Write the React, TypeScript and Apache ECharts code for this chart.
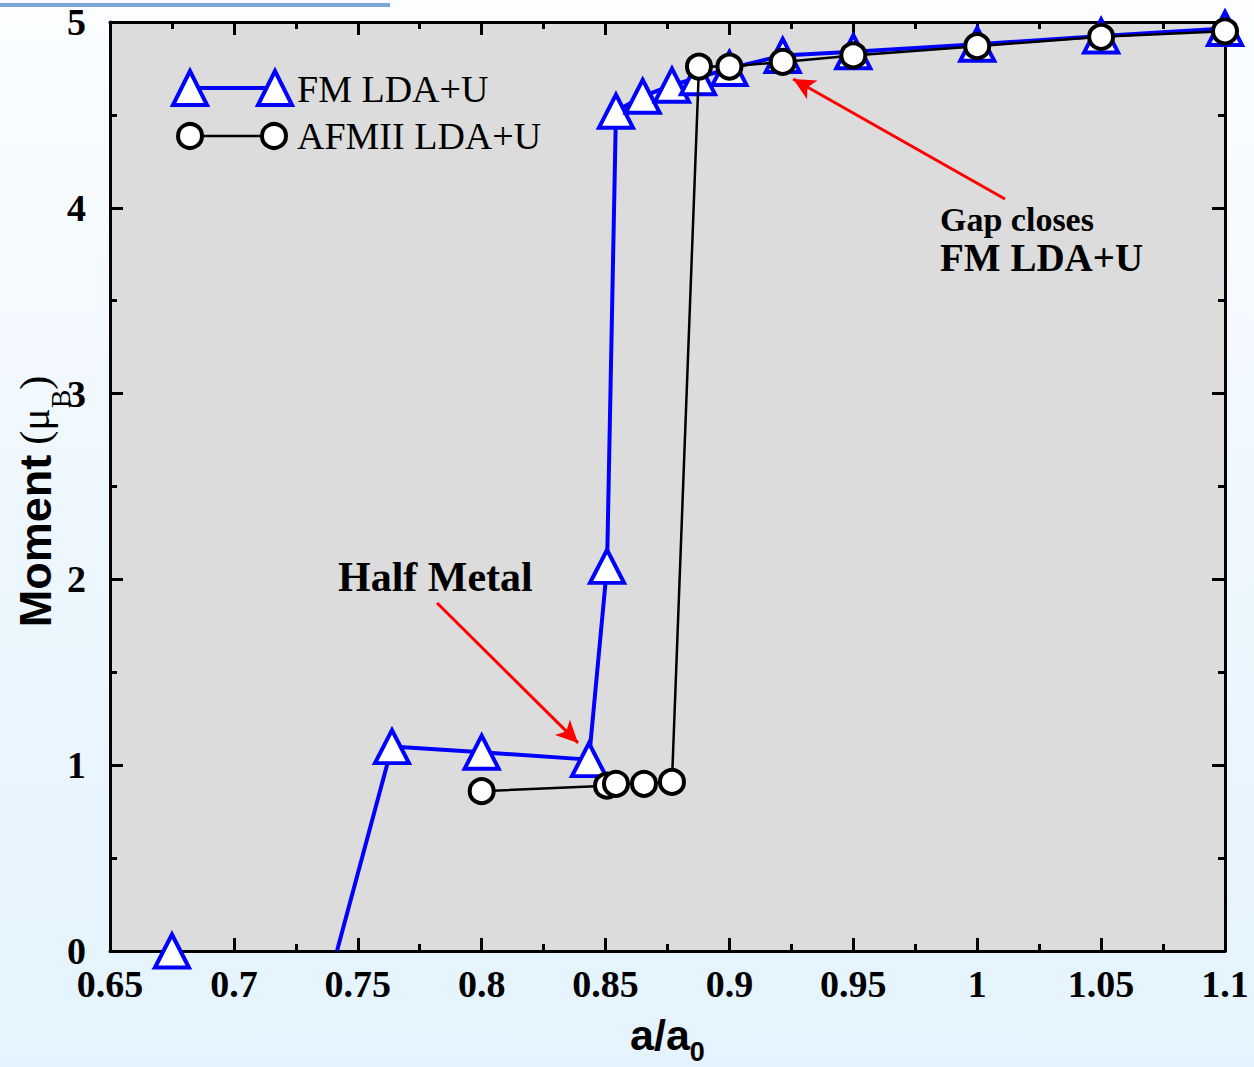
import React, { useEffect, useRef } from "react";
import * as echarts from "echarts";

// ---- data ----
const fmRatio = [0.675, 0.7416, 0.7638, 0.8, 0.8433, 0.8506, 0.8542, 0.865, 0.8768, 0.8873, 0.9, 0.9215, 0.95, 1.0, 1.05, 1.1];
const fmMoment = [0, 0, 1.1, 1.07, 1.03, 2.07, 4.52, 4.6, 4.66, 4.7, 4.75, 4.82, 4.84, 4.88, 4.925, 4.965];
const fmHasMarker = [true, false, true, true, true, true, true, true, true, true, true, true, true, true, true, true];
const fmBreakAfter = 0; // line not drawn between first and second point

const afmRatio = [0.8, 0.8506, 0.8542, 0.8655, 0.8768, 0.8877, 0.9, 0.9215, 0.95, 1.0, 1.05, 1.1];
const afmMoment = [0.86, 0.89, 0.9, 0.9, 0.91, 4.76, 4.76, 4.785, 4.82, 4.87, 4.92, 4.95];

const seriesNames = ["FM LDA+U", "AFMII LDA+U"];
const xMin = 0.65, xMax = 1.1, xStep = 0.05;
const yMin = 0, yMax = 5, yStep = 1;

const halfMetalArrow = [[0.782, 1.873], [0.8389, 1.12]];
const gapArrow = [[1.0112, 4.047], [0.9257, 4.693]];
const annotations = ["Half Metal", "Gap closes", "FM LDA+U"];

const SERIF = "'Liberation Serif', 'Times New Roman', serif";
const SANS = "'Liberation Sans', Arial, sans-serif";

export default function App() {
  const ref = useRef<HTMLDivElement>(null);
  useEffect(() => {
    const chart = echarts.init(ref.current!, null, { renderer: "svg" });

    const fmData: any[] = [];
    fmRatio.forEach((x, i) => {
      fmData.push(fmHasMarker[i] ? [x, fmMoment[i]] : { value: [x, fmMoment[i]], symbol: "none" });
      if (i === fmBreakAfter) fmData.push([(fmRatio[i] + fmRatio[i + 1]) / 2, "-"]);
    });
    const afmData = afmRatio.map((x, i) => [x, afmMoment[i]]);

    const line = { color: "#000", width: 3 };
    const labelStyle = {
      fontFamily: SERIF,
      fontWeight: "bold" as const,
      fontSize: 38,
      lineHeight: 30,
      color: "#000",
    };
    const base = (showLabel: boolean) => ({
      type: "value" as const,
      axisLine: { show: true, onZero: false, lineStyle: line },
      axisTick: { show: true, inside: true, length: 13, lineStyle: line },
      minorTick: { show: true, splitNumber: 2, length: 7, lineStyle: line },
      splitLine: { show: false },
      minorSplitLine: { show: false },
      axisLabel: showLabel ? { ...labelStyle } : { show: false },
    });
    const fmt = (v: number) => String(parseFloat(v.toFixed(3)));

    const option: any = {
      animation: false,
      backgroundColor: "transparent",
      grid: {
        left: 110,
        right: 29,
        top: 22,
        bottom: 116,
        show: true,
        backgroundColor: "#dcdcdc",
        borderWidth: 0,
        containLabel: false,
        outerBoundsMode: "none",
      },
      xAxis: [
        {
          ...base(true),
          position: "bottom",
          min: xMin,
          max: xMax,
          interval: xStep,
          axisLabel: { ...labelStyle, margin: 18, formatter: fmt, showMinLabel: true, showMaxLabel: true },
          name: "{a|a/a}{s|0}",
          nameLocation: "middle",
          nameGap: 54,
          nameMoveOverlap: false,
          nameTextStyle: {
            rich: {
              a: { fontFamily: SANS, fontWeight: "bold", fontSize: 43, color: "#000", lineHeight: 60 },
              s: { fontFamily: SANS, fontWeight: "bold", fontSize: 27, color: "#000", verticalAlign: "bottom" },
            },
          },
        },
        { ...base(false), position: "top", min: xMin, max: xMax, interval: xStep },
      ],
      yAxis: [
        {
          ...base(true),
          position: "left",
          min: yMin,
          max: yMax,
          interval: yStep,
          axisLabel: { ...labelStyle, margin: 24, showMinLabel: true, showMaxLabel: true },
          name: "{m|Moment}   {p|(μ}{b|B}{p|)}",
          nameLocation: "middle",
          nameRotate: 90,
          nameGap: 36,
          nameMoveOverlap: false,
          nameTextStyle: {
            padding: [0, 30, 0, 0],
            rich: {
              m: { fontFamily: SANS, fontWeight: "bold", fontSize: 45, color: "#000", lineHeight: 78 },
              p: { fontFamily: SERIF, fontSize: 42, color: "#000" },
              b: { fontFamily: SERIF, fontSize: 28, color: "#000", verticalAlign: "bottom" },
            },
          },
        },
        { ...base(false), position: "right", min: yMin, max: yMax, interval: yStep },
      ],
      series: [
        {
          name: seriesNames[0],
          type: "line",
          xAxisIndex: 0,
          yAxisIndex: 0,
          clip: false,
          connectNulls: false,
          symbol: "triangle",
          symbolSize: [34, 33],
          showAllSymbol: true,
          itemStyle: { color: "#ffffff", borderColor: "#0000ff", borderWidth: 4 },
          lineStyle: { color: "#0000ff", width: 4 },
          data: fmData,
          z: 3,
          markLine: {
            silent: true,
            symbol: ["none", "arrow"],
            symbolSize: [16, 22],
            label: { show: false },
            lineStyle: { color: "#ff0000", width: 3, type: "solid" },
            data: [
              [{ coord: halfMetalArrow[0] }, { coord: halfMetalArrow[1] }],
              [{ coord: gapArrow[0] }, { coord: gapArrow[1] }],
            ],
          },
        },
        {
          name: seriesNames[1],
          type: "line",
          xAxisIndex: 0,
          yAxisIndex: 0,
          clip: false,
          symbol: "circle",
          symbolSize: 24,
          showAllSymbol: true,
          itemStyle: { color: "#ffffff", borderColor: "#000000", borderWidth: 4 },
          lineStyle: { color: "#000000", width: 2.5 },
          data: afmData,
          z: 4,
        },
      ],
      graphic: [
        { type: "rect", shape: { x: 0, y: 3, width: 390, height: 4 }, style: { fill: "#7aa5d8" } },
        // legend
        { type: "line", shape: { x1: 190, y1: 88, x2: 275, y2: 88 }, style: { stroke: "#0000ff", lineWidth: 4 } },
        { type: "polygon", shape: { points: [[190, 71], [173, 105], [207, 105]] }, style: { fill: "#fff", stroke: "#0000ff", lineWidth: 4 } },
        { type: "polygon", shape: { points: [[275, 71], [258, 105], [292, 105]] }, style: { fill: "#fff", stroke: "#0000ff", lineWidth: 4 } },
        { type: "text", x: 297, y: 89, style: { text: seriesNames[0], font: `38px ${SERIF}`, fill: "#000", verticalAlign: "middle" } },
        { type: "line", shape: { x1: 190, y1: 136, x2: 274, y2: 136 }, style: { stroke: "#000", lineWidth: 2.5 } },
        { type: "circle", shape: { cx: 190, cy: 136, r: 12 }, style: { fill: "#fff", stroke: "#000", lineWidth: 4 } },
        { type: "circle", shape: { cx: 274, cy: 136, r: 12 }, style: { fill: "#fff", stroke: "#000", lineWidth: 4 } },
        { type: "text", x: 297, y: 136, style: { text: seriesNames[1], font: `38px ${SERIF}`, fill: "#000", verticalAlign: "middle" } },
        // annotations
        { type: "text", x: 338, y: 577, style: { text: annotations[0], font: `bold 42px ${SERIF}`, fill: "#000", verticalAlign: "middle" } },
        { type: "text", x: 940, y: 219, style: { text: annotations[1], font: `bold 34px ${SERIF}`, fill: "#000", verticalAlign: "middle" } },
        { type: "text", x: 940, y: 257, style: { text: annotations[2], font: `bold 39px ${SERIF}`, fill: "#000", verticalAlign: "middle" } },
      ],
    };
    chart.setOption(option);
    return () => chart.dispose();
  }, []);

  return (
    <div
      style={{
        position: "fixed",
        left: 0,
        top: 0,
        width: 1254,
        height: 1067,
        background: "linear-gradient(to bottom, #fbfdff 0%, #eef7fe 50%, #e4f3fd 100%)",
      }}
    >
      <div ref={ref} style={{ width: 1254, height: 1067 }} />
    </div>
  );
}
